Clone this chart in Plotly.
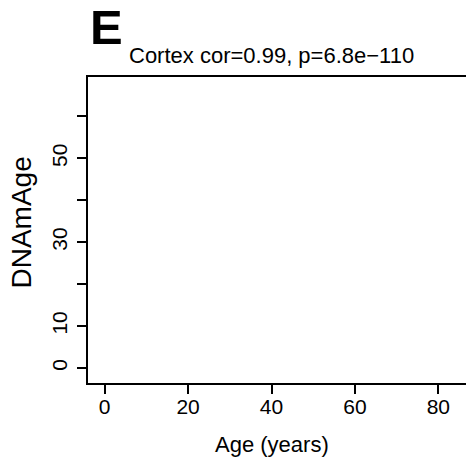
import plotly.graph_objects as go

# Data (panel is empty in the reference: no points are drawn)
age_years = []
dnam_age = []

x_tick_vals = [0, 20, 40, 60, 80]
x_tick_text = ["0", "20", "40", "60", "80"]
y_tick_vals = [0, 10, 20, 30, 40, 50, 60]
y_tick_text = ["0", "10", "", "30", "", "50", ""]

panel_letter = "E"
title_text = "Cortex cor=0.99, p=6.8e\u2212110"
x_title = "Age (years)"
y_title = "DNAmAge"

FONT = "Liberation Sans, Arial, Helvetica, sans-serif"

fig = go.Figure()
fig.add_trace(go.Scatter(x=age_years, y=dnam_age, mode="markers",
                         marker=dict(color="black", size=6), showlegend=False))

fig.update_layout(
    width=466, height=462,
    margin=dict(l=88, r=0, t=77, b=79),
    paper_bgcolor="white", plot_bgcolor="white",
    font=dict(family=FONT, color="black", size=21),
    showlegend=False,
    xaxis=dict(range=[-4.0, 86.64], tickvals=x_tick_vals, ticktext=x_tick_text,
               showline=True, linecolor="black", linewidth=2, mirror=True,
               ticks="outside", ticklen=9, tickwidth=2, tickcolor="black",
               showgrid=False, zeroline=False, ticklabelstandoff=-5,
               tickfont=dict(size=21)),
    yaxis=dict(range=[-3.58, 69.4], tickvals=y_tick_vals, ticktext=y_tick_text,
               showline=True, linecolor="black", linewidth=2, mirror=False,
               ticks="outside", ticklen=9, tickwidth=2, tickcolor="black",
               showgrid=False, zeroline=False, tickangle=-90, ticklabelstandoff=2,
               tickfont=dict(size=21)),
    annotations=[
        dict(text="<b>" + panel_letter + "</b>", xref="paper", yref="paper",
             x=0.0, y=1.162, xanchor="left", yanchor="middle", showarrow=False,
             font=dict(size=49, family=FONT)),
        dict(text=title_text, xref="paper", yref="paper",
             x=0.103, y=1.07, xanchor="left", yanchor="middle", showarrow=False,
             font=dict(size=22, family=FONT)),
        dict(text=x_title, xref="paper", yref="paper",
             x=0.488, y=-0.2, xanchor="center", yanchor="middle", showarrow=False,
             font=dict(size=22, family=FONT)),
        dict(text=y_title, xref="paper", yref="paper", textangle=-90,
             x=-0.1746, y=0.5245, xanchor="center", yanchor="middle", showarrow=False,
             font=dict(size=28, family=FONT)),
    ],
)

fig.write_html("out.html")
